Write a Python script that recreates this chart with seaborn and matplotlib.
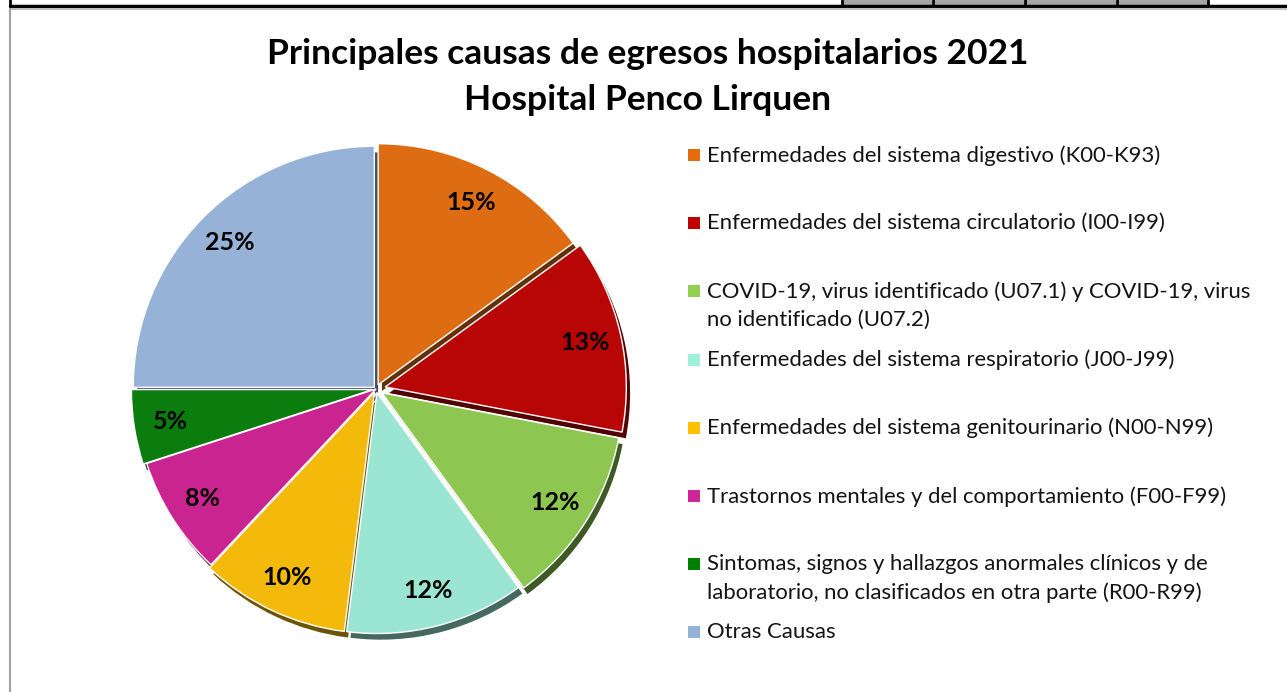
import numpy as np
import matplotlib
matplotlib.use("Agg")
import matplotlib.pyplot as plt
from matplotlib.lines import Line2D
from matplotlib.patches import Rectangle
from matplotlib.colors import to_rgb
import seaborn as sns

# datos del gráfico
causas = [
    "Enfermedades del sistema digestivo (K00-K93)",
    "Enfermedades del sistema circulatorio (I00-I99)",
    "COVID-19, virus identificado (U07.1) y COVID-19, virus\nno identificado (U07.2)",
    "Enfermedades del sistema respiratorio (J00-J99)",
    "Enfermedades del sistema genitourinario (N00-N99)",
    "Trastornos mentales y del comportamiento (F00-F99)",
    "Sintomas, signos y hallazgos anormales clínicos y de\nlaboratorio, no clasificados en otra parte (R00-R99)",
    "Otras Causas",
]
porcentajes = [15, 13, 12, 12, 10, 8, 5, 25]
colores = ["#DD6C12", "#B80505", "#8DC651", "#9AE6D3", "#F3B90B", "#C9248F", "#0A7D0E", "#96B2D6"]
colores_leyenda = ["#E46C0A", "#C00000", "#92D050", "#A0EEDC", "#FFC000", "#D12498", "#008000", "#95B3D7"]
titulo = "Principales causas de egresos hospitalarios 2021\nHospital Penco Lirquen"

W, H = 1287, 692
sns.set_theme(style="white")
plt.rcParams["font.family"] = ["Lato", "DejaVu Sans"]

fig = plt.figure(figsize=(W / 100, H / 100), dpi=100)
fig.patch.set_facecolor("white")


def fx(px):
    return px / W


def fy(py):
    return 1 - py / H


# bordes de la hoja / celdas de arriba
for x0, x1 in [(842, 932), (934, 1024), (1026, 1116), (1118, 1208)]:
    fig.add_artist(Rectangle((fx(x0), fy(5)), fx(x1 - x0), 5 / H, transform=fig.transFigure,
                             facecolor="#A6A6A6", edgecolor="none"))
for xv in [10, 842, 933, 1025, 1117, 1208]:
    fig.add_artist(Line2D([fx(xv), fx(xv)], [fy(0), fy(5)], transform=fig.transFigure, color="black", lw=2))
fig.add_artist(Line2D([fx(10), 1], [fy(5.5), fy(5.5)], transform=fig.transFigure, color="black", lw=2.5))
fig.add_artist(Line2D([fx(10), 1], [fy(9), fy(9)], transform=fig.transFigure, color="#BFBFBF", lw=1.5))
fig.add_artist(Line2D([fx(10), fx(10)], [fy(9), 0], transform=fig.transFigure, color="#A0A0A0", lw=1.5))

# título
fig.text(fx(648), fy(77), titulo, ha="center", va="center", fontsize=25.5, fontweight="bold",
         color="black", linespacing=1.55)

# torta
size = 520
cy = 389
ax = fig.add_axes([fx(376 - size / 2), fy(cy + size / 2), fx(size), size / H])
ax.set_aspect("equal")
ax.axis("off")

radio = 1.02
separacion = [0.02, 0.04, 0.03, 0.015, 0.015, 0.0, 0.015, 0.01]
sombras = [tuple(np.array(to_rgb(c)) * 0.45) for c in colores]

ax.pie(porcentajes, colors=sombras, startangle=90, counterclock=False, radius=radio,
       explode=separacion, center=(0.016, -0.026),
       wedgeprops=dict(linewidth=0))
ax.pie(porcentajes, colors=colores, startangle=90, counterclock=False, radius=radio,
       explode=separacion, autopct="%.0f%%", pctdistance=0.85,
       wedgeprops=dict(linewidth=1, edgecolor="white"),
       textprops=dict(fontsize=18, fontweight="bold", color="black"))
ax.set_xlim(-1.1, 1.1)
ax.set_ylim(-1.1, 1.1)

# leyenda
paso = 68.2
for i, (lab, col) in enumerate(zip(causas, colores_leyenda)):
    yc = 155 + i * paso
    fig.add_artist(Rectangle((fx(688), fy(yc + 6)), fx(12), 12 / H, transform=fig.transFigure,
                             facecolor=col, edgecolor="none"))
    fig.text(fx(707), fy(yc - 10), lab, ha="left", va="top", fontsize=15.9, color="#141414",
             linespacing=1.5)

fig.savefig("out.png", dpi=100, facecolor="white")
